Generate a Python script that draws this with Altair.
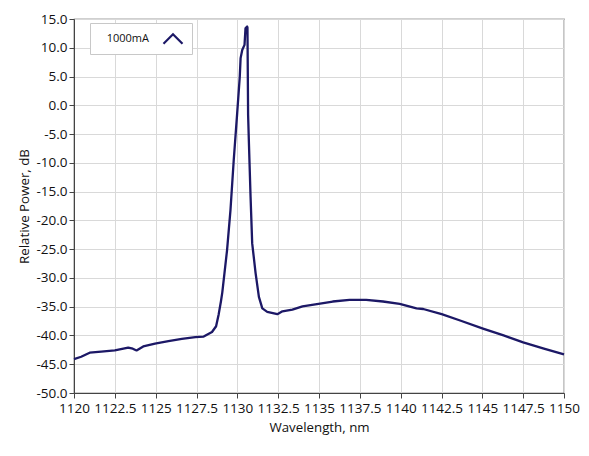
import altair as alt
import pandas as pd

wavelength = [1120.0, 1120.44, 1120.96, 1121.67, 1122.5, 1123.32, 1123.6, 1123.83, 1124.24,
              1124.96, 1125.78, 1126.6, 1127.43, 1127.94, 1128.45, 1128.7, 1128.86, 1129.0,
              1129.08, 1129.37, 1129.58, 1129.78, 1129.99, 1130.15, 1130.2, 1130.3, 1130.44,
              1130.5, 1130.6, 1130.62, 1130.66, 1130.71, 1130.81, 1130.91, 1131.12, 1131.32,
              1131.53, 1131.83, 1132.45, 1132.76, 1133.37, 1133.99, 1134.97, 1135.84, 1136.87,
              1137.89, 1138.92, 1139.94, 1140.97, 1141.38, 1142.51, 1143.64, 1145.04, 1146.3,
              1147.5, 1148.77, 1150.0]
power = [-44.1, -43.7, -43.0, -42.8, -42.6, -42.1, -42.3, -42.6, -41.9,
         -41.4, -41.0, -40.6, -40.3, -40.2, -39.4, -38.4, -36.3, -34.0,
         -32.5, -25.2, -18.2, -9.5, -1.4, 5.0, 8.2, 9.6, 10.5,
         13.4, 13.7, 13.5, -1.7, -6.6, -15.9, -24.0, -29.2, -33.3,
         -35.3, -35.9, -36.3, -35.8, -35.5, -34.95, -34.5, -34.1, -33.8,
         -33.8, -34.1, -34.5, -35.3, -35.4, -36.3, -37.4, -38.8, -40.0,
         -41.2, -42.3, -43.3]
series = ["1000mA"] * len(wavelength)

x_ticks = [1120 + 2.5 * i for i in range(13)]
y_ticks = [-50 + 5 * i for i in range(14)]

df = pd.DataFrame({"wl": wavelength, "p": power, "s": series})

font = "Open Sans"

chart = alt.Chart(df).mark_line(strokeWidth=2.3, strokeJoin="round").encode(
    x=alt.X("wl:Q", title="Wavelength, nm",
            scale=alt.Scale(domain=[1120, 1150], nice=False, zero=False),
            axis=alt.Axis(values=x_ticks,
                          labelExpr="datum.value % 1 == 0 ? format(datum.value, 'd') : format(datum.value, '.1f')",
                          labelOverlap=False, labelBound=False,
                          labelFlush=False, tickSize=5, labelPadding=3, titlePadding=6)),
    y=alt.Y("p:Q", title="Relative Power, dB",
            scale=alt.Scale(domain=[-50, 15], nice=False, zero=False),
            axis=alt.Axis(values=y_ticks, labelExpr="replace(format(datum.value, '.1f'), '−', '-')",
                          labelOverlap=False, tickSize=5, labelPadding=2, titlePadding=4)),
    color=alt.Color("s:N", scale=alt.Scale(range=["#1c1866"]),
                    legend=alt.Legend(title=None, orient="none", legendX=16, legendY=4,
                                      symbolType="M-1,0.5L0,-0.5L1,0.5", symbolSize=361,
                                      symbolStrokeWidth=2.2, symbolFillColor="transparent",
                                      symbolOffset=67, labelOffset={"expr": "-35"},
                                      labelAlign="right",
                                      labelFont=font, labelFontSize=11, labelColor="#111",
                                      fillColor="white", strokeColor="#c8c8c8",
                                      padding=5)),
).properties(
    width=490, height=374,
    autosize=alt.AutoSizeParams(type="none"),
    padding={"left": 66, "top": 11, "right": 17, "bottom": 50},
).configure_view(
    stroke="#444", strokeWidth=1.2
).configure_axis(
    gridColor="#d9d9d9", gridWidth=1, domainColor="#444", tickColor="#444",
    labelFont=font, labelFontSize=13.5, labelColor="#111",
    titleFont=font, titleFontSize=13.3, titleFontWeight="normal", titleColor="#111"
)

chart.save("out.html", embed_options={"renderer": "svg", "actions": False})
